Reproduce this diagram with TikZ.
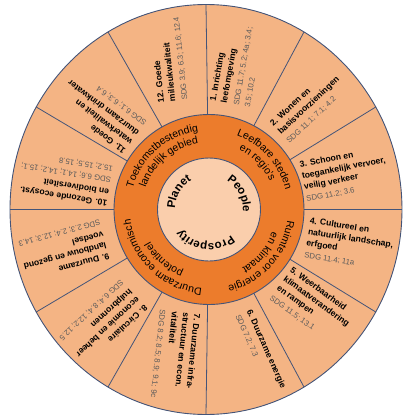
\documentclass[tikz,border=0pt]{standalone}
\usepackage{fontspec}
\setmainfont{Liberation Sans}
\usetikzlibrary{decorations.text}

\definecolor{segfill}{RGB}{244,180,132}
\definecolor{ringfill}{RGB}{236,124,44}
\definecolor{corefill}{RGB}{250,206,172}
\definecolor{rimline}{RGB}{68,84,120}
\definecolor{sdggray}{RGB}{90,90,90}

\newcommand{\sdg}[1]{{\mdseries\color{sdggray}\fontsize{7.8}{11.2}\selectfont#1}}
\newcommand{\ringfont}{\fontsize{10.5}{12}\selectfont}
\newcommand{\corefont}{\bfseries\fontsize{11.5}{12}\selectfont}

\begin{document}
\begin{tikzpicture}[x=1pt, y=1pt,
    seg/.style={align=left, inner sep=0pt, font=\bfseries\fontsize{8.6}{11.2}\selectfont},
    spoke/.style={draw=rimline, line width=0.8pt},
    ringtext/.style={decorate, decoration={text along path, text align=center, text={#1}}}]
		\useasboundingbox (-209,-206.5) rectangle (196,209.5);

		% outer band with the twelve themes
		\path[fill=segfill, draw=rimline, line width=0.9pt] (-3,0) ellipse [x radius=196, y radius=205];
		\foreach \a in {0,30,...,330}
			\draw[spoke] (0,0) -- ({-3+196*cos(\a)},{205*sin(\a)});

		% middle ring and core
		\path[fill=ringfill, draw=rimline, line width=0.9pt] (0,0) circle (95);
		\path[fill=corefill, draw=rimline, line width=0.9pt] (0,0) circle (51.5);
		\node[inner sep=0pt] (core) at (0,0) {};

		\path[ringtext={|\ringfont|Toekomstbestendig}] (201:79) arc[start angle=201, end angle=61, radius=79];
		\path[ringtext={|\ringfont|landelijk gebied}] (200:67) arc[start angle=200, end angle=60, radius=67];
		\path[ringtext={|\ringfont|Leefbare steden}] (112:79) arc[start angle=112, end angle=-28, radius=79];
		\path[ringtext={|\ringfont|en regio's}] (114:67) arc[start angle=114, end angle=-26, radius=67];
		\path[ringtext={|\ringfont|Ruimte voor energie}] (28:79) arc[start angle=28, end angle=-112, radius=79];
		\path[ringtext={|\ringfont|en klimaat}] (30:67) arc[start angle=30, end angle=-110, radius=67];
		\path[ringtext={|\ringfont|Duurzaam economisch}] (296:79) arc[start angle=296, end angle=156, radius=79];
		\path[ringtext={|\ringfont|potentieel}] (298:67) arc[start angle=298, end angle=158, radius=67];

		\path[ringtext={|\corefont|Planet}] (230:34) arc[start angle=230, end angle=70, radius=34];
		\path[ringtext={|\corefont|People}] (107:34) arc[start angle=107, end angle=-53, radius=34];
		\path[ringtext={|\corefont|Prosperity}] (-7:34) arc[start angle=-7, end angle=-187, radius=34];

		% themes
		\node[seg, rotate=80] (t1) at (79:147) {1. Inrichting\\leefomgeving\\[1pt]\sdg{SDG 11.7; 5.2; 4a; 3.4;}\\\sdg{3.5; 10.2}};
		\node[seg, rotate=43] (t2) at (46:144) {2. Wonen en\\basisvoorzieningen\\[1pt]\sdg{SDG 11.1; 7.1; 4.2}};
		\node[seg, rotate=11] (t3) at (14.6:140.5) {3. Schoon en\\toegankelijk vervoer,\\veilig verkeer\\[1pt]\sdg{SDG 11.2; 3.6}};
		\node[seg, rotate=-9] (t4) at (-14:145) {4. Cultureel en\\natuurlijk landschap,\\erfgoed\\[1pt]\sdg{SDG 11.4; 11a}};
		\node[seg, rotate=-36] (t5) at (-43:142) {5. Weerbaarheid\\klimaatverandering\\en rampen\\[1pt]\sdg{SDG 11.5; 13.1}};
		\node[seg, rotate=-66] (t6) at (-70:151) {6. Duurzame energie\\[1pt]\sdg{SDG 7.2; 7.3}};
		\node[seg, rotate=-96] (t7) at (257:150) {7. Duurzame infra-\\structuur en econ.\\vitaliteit\\[1pt]\sdg{SDG 8.2; 8.5; 8.9; 9.1; 9c}};
		\node[seg, rotate=223] (t8) at (227:155) {8. Circulaire\\economie en beheer\\hulpbronnen\\[1pt]\sdg{SDG 6.4; 8.4; 12.2; 12.5}};
		\node[seg, rotate=195] (t9) at (195.5:151) {9. Duurzame\\landbouw en gezond\\voedsel\\[1pt]\sdg{SDG 2.3; 2.4; 12.3; 14.3}};
		\node[seg, rotate=171] (t10) at (168:147) {10. Gezonde ecosyst.\\en biodiversiteit\\[1pt]\sdg{SDG 6.6; 14.1; 14.2; 15.1;}\\\sdg{15.2; 15.5; 15.8}};
		\node[seg, rotate=143] (t11) at (138:146) {11. Goede\\waterkwaliteit en\\duurzaam drinkwater\\[1pt]\sdg{SDG 6.1; 6.3; 6.4}};
		\node[seg, rotate=96] (t12) at (105:155) {12. Goede\\milieukwaliteit\\[1pt]\sdg{SDG 3.9; 6.3; 11.6; 12.4}};
	\end{tikzpicture}
\end{document}
